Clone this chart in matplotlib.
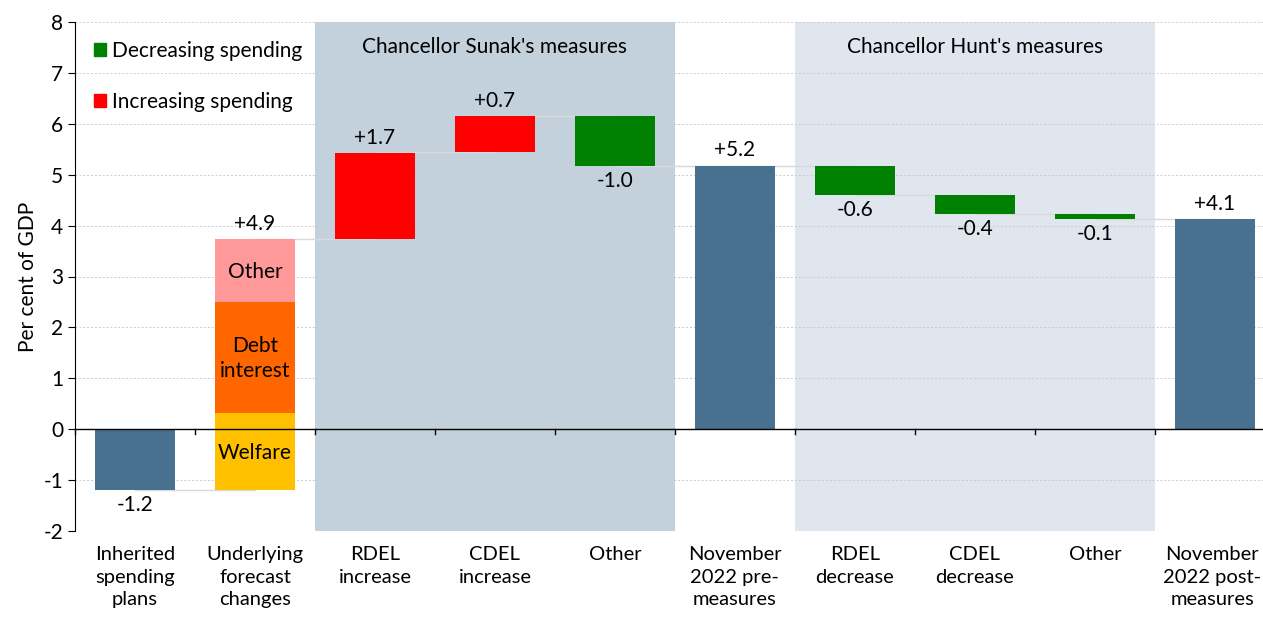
import numpy as np
import matplotlib.pyplot as plt
from matplotlib.patches import Patch

plt.rcParams['font.family'] = ['Lato', 'DejaVu Sans']
plt.rcParams['axes.unicode_minus'] = False

categories = ["Inherited\nspending\nplans", "Underlying\nforecast\nchanges", "RDEL\nincrease",
              "CDEL\nincrease", "Other", "November\n2022 pre-\nmeasures", "RDEL\ndecrease",
              "CDEL\ndecrease", "Other", "November\n2022 post-\nmeasures"]
# bar bottoms and tops (per cent of GDP)
bottoms = [-1.2, -1.2, 3.73, 5.45, 6.15, 0.0, 5.18, 4.60, 4.22, 0.0]
tops = [0.0, 3.73, 5.43, 6.15, 5.18, 5.18, 4.60, 4.22, 4.13, 4.13]
labels = ["-1.2", "+4.9", "+1.7", "+0.7", "-1.0", "+5.2", "-0.6", "-0.4", "-0.1", "+4.1"]
kinds = ["total", "stack", "up", "up", "down", "total", "down", "down", "down", "total"]

# underlying forecast changes split
stack_names = ["Welfare", "Debt\ninterest", "Other"]
stack_edges = [-1.2, 0.32, 2.5, 3.73]
stack_colors = ["#ffc000", "#ff6600", "#ff9999"]

colors = {"total": "#48718f", "up": "#ff0000", "down": "#008000"}
fs = 15

fig = plt.figure(figsize=(12.63, 6.19), dpi=100)
ax = fig.add_axes([75 / 1263, 1 - 531 / 619, 1195 / 1263, 509 / 619])
ax.set_xlim(-0.5, 9.46)
ax.set_ylim(-2, 8)

x = np.arange(len(categories))
w = 0.67

# shaded regions
ax.axvspan(1.5, 4.5, color="#c3d1dc", zorder=0, lw=0)
ax.axvspan(5.5, 8.5, color="#dfe6ee", zorder=0, lw=0)
ax.text(3, 7.5, "Chancellor Sunak's measures", ha="center", va="center", fontsize=fs)
ax.text(7, 7.5, "Chancellor Hunt's measures", ha="center", va="center", fontsize=fs)

ax.set_yticks(range(-2, 9))
ax.grid(axis="y", color="#cccccc", linestyle=(0, (2, 2)), lw=0.7, zorder=0.5)
ax.set_axisbelow(True)

# connectors
levels = [-1.2, 3.73, 5.45, 6.15, 5.18, 5.18, 4.60, 4.22, 4.13]
for i, lv in enumerate(levels):
    ax.plot([x[i], x[i + 1]], [lv, lv], color="#d9d9d9", lw=1, zorder=1)

for i in range(len(categories)):
    lo, hi = min(bottoms[i], tops[i]), max(bottoms[i], tops[i])
    if kinds[i] == "stack":
        for j in range(3):
            ax.bar(x[i], stack_edges[j + 1] - stack_edges[j], w, bottom=stack_edges[j],
                   color=stack_colors[j], zorder=2)
            ax.text(x[i], (stack_edges[j] + stack_edges[j + 1]) / 2 - 0.02, stack_names[j],
                    ha="center", va="center", fontsize=fs, linespacing=1.3)
    else:
        ax.bar(x[i], hi - lo, w, bottom=lo, color=colors[kinds[i]], zorder=2)
    if labels[i].startswith("+"):
        ax.text(x[i], hi + 0.1, labels[i], ha="center", va="bottom", fontsize=fs)
    else:
        ax.text(x[i], lo - 0.1, labels[i], ha="center", va="top", fontsize=fs)

ax.axhline(0, color="#000000", lw=1, zorder=3)
for b in np.arange(-0.5, 9.5, 1.0):
    ax.plot([b, b], [0, -0.1], color="black", lw=1, zorder=3, clip_on=False)

for spine in ["top", "right", "bottom"]:
    ax.spines[spine].set_visible(False)
ax.spines["left"].set_color("black")
ax.set_xticks([])
ax.tick_params(axis="y", labelsize=fs, length=5, direction="out")
ax.set_ylabel("Per cent of GDP", fontsize=fs)

for i, c in enumerate(categories):
    ax.text(x[i] - (0.02 if i == 9 else 0), -2.3, c, ha="center", va="top", fontsize=14.5,
            linespacing=1.4, clip_on=False)

handles = [Patch(color="#008000", label="Decreasing spending"),
           Patch(color="#ff0000", label="Increasing spending")]
ax.legend(handles=handles, loc="upper left", frameon=False, fontsize=fs,
          handlelength=0.6, handleheight=0.6, handletextpad=0.3, labelspacing=1.5,
          bbox_to_anchor=(0.0, 1.0))

fig.savefig("out.png", dpi=100)
